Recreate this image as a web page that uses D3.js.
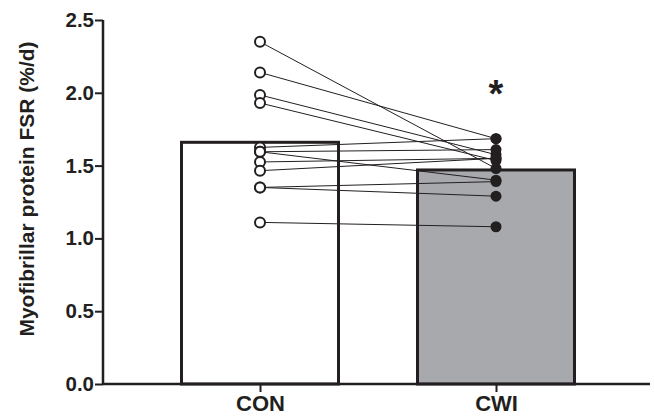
<!DOCTYPE html>
<html>
<head>
<meta charset="utf-8">
<script src="https://cdn.jsdelivr.net/npm/d3@7"></script>
<style>
  body { margin: 0; background: #fff; }
  text { font-family: "Liberation Sans", Arial, sans-serif; font-weight: bold; fill: #231f20; }
</style>
</head>
<body>
<div id="chart"></div>
<script>
// groups and bar heights (means)
const groups = ["CON", "CWI"];
const means = [1.66, 1.47];

// individual subjects, CON -> CWI
const conValues = [2.35, 2.14, 1.985, 1.93, 1.625, 1.595, 1.595, 1.525, 1.465, 1.35, 1.35, 1.11];
const cwiValues = [1.48, 1.685, 1.575, 1.535, 1.685, 1.61, 1.40, 1.55, 1.55, 1.39, 1.29, 1.08];

const yTicks = [0, 0.5, 1.0, 1.5, 2.0, 2.5];

const width = 654, height = 418;
const plotLeft = 103, plotRight = 650, plotTop = 20, plotBottom = 384;

const svg = d3.select("#chart")
    .append("svg")
    .attr("width", width)
    .attr("height", height);

const y = d3.scaleLinear().domain([0, 2.5]).range([plotBottom, plotTop]);
const x = d3.scalePoint().domain(groups).range([260, 496]);
const barWidth = 157;
const ink = "#231f20";

// bars
svg.selectAll("rect.bar")
    .data(groups)
    .enter()
    .append("rect")
    .attr("class", "bar")
    .attr("x", (d) => x(d) - barWidth / 2)
    .attr("y", (d, i) => y(means[i]))
    .attr("width", barWidth)
    .attr("height", (d, i) => y(0) - y(means[i]))
    .attr("fill", (d, i) => i === 0 ? "#ffffff" : "#a7a9ac")
    .attr("stroke", ink)
    .attr("stroke-width", 3);

// paired lines
const pairs = conValues.map((v, i) => ({ con: v, cwi: cwiValues[i] }));
svg.selectAll("line.pair")
    .data(pairs)
    .enter()
    .append("line")
    .attr("class", "pair")
    .attr("x1", x("CON"))
    .attr("y1", (d) => y(d.con))
    .attr("x2", x("CWI"))
    .attr("y2", (d) => y(d.cwi))
    .attr("stroke", ink)
    .attr("stroke-width", 1);

// CON points (open)
svg.selectAll("circle.con")
    .data(conValues)
    .enter()
    .append("circle")
    .attr("class", "con")
    .attr("cx", x("CON"))
    .attr("cy", (d) => y(d))
    .attr("r", 5)
    .attr("fill", "#fff")
    .attr("stroke", ink)
    .attr("stroke-width", 2);

// CWI points (filled)
svg.selectAll("circle.cwi")
    .data(cwiValues)
    .enter()
    .append("circle")
    .attr("class", "cwi")
    .attr("cx", x("CWI"))
    .attr("cy", (d) => y(d))
    .attr("r", 5.5)
    .attr("fill", ink);

// y axis
const yAxis = svg.append("g")
    .attr("transform", `translate(${plotLeft},0)`)
    .call(d3.axisLeft(y).tickValues(yTicks).tickFormat(d3.format(".1f")).tickSize(8).tickPadding(1));
yAxis.select(".domain").attr("stroke", ink).attr("stroke-width", 2.5).attr("d", `M0,${plotTop}V${plotBottom}`);
yAxis.selectAll(".tick line").attr("stroke", ink).attr("stroke-width", 2);
yAxis.selectAll(".tick text").style("font-size", "20.5px").attr("fill", ink).attr("font-family", null);

// x axis
const xAxis = svg.append("g")
    .attr("transform", `translate(0,${plotBottom})`)
    .call(d3.axisBottom(x).tickSize(8).tickPadding(3));
xAxis.select(".domain").attr("stroke", ink).attr("stroke-width", 2.5).attr("d", `M${plotLeft},0H${plotRight}`);
xAxis.selectAll(".tick line").attr("stroke", ink).attr("stroke-width", 2);
xAxis.selectAll(".tick text").style("font-size", "22px").attr("fill", ink).attr("font-family", null);

// y axis title
svg.append("text")
    .attr("transform", `translate(34,189) rotate(-90)`)
    .attr("text-anchor", "middle")
    .style("font-size", "21px")
    .text("Myofibrillar protein FSR (%/d)");

// significance marker
svg.append("text")
    .attr("x", x("CWI"))
    .attr("y", 107)
    .attr("text-anchor", "middle")
    .style("font-size", "38px")
    .text("*");
</script>
</body>
</html>
